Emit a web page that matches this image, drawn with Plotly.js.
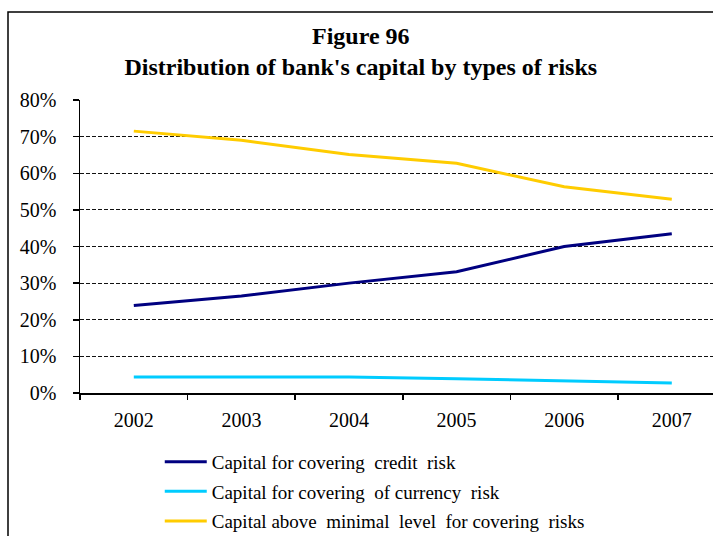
<!DOCTYPE html>
<html>
<head>
<meta charset="utf-8">
<script src="https://cdn.plot.ly/plotly-3.0.1.min.js"></script>
<style>html,body{margin:0;padding:0;background:#fff;}#chart{width:713px;height:536px;}</style>
</head>
<body>
<div id="chart"></div>
<script>
const years = ['2002', '2003', '2004', '2005', '2006', '2007'];
const creditRisk = [0.239, 0.265, 0.300, 0.331, 0.400, 0.435];
const currencyRisk = [0.044, 0.044, 0.044, 0.039, 0.032, 0.027];
const aboveMinimal = [0.715, 0.690, 0.651, 0.627, 0.563, 0.529];
const seriesNames = [
  'Capital for covering  credit  risk',
  'Capital for covering  of currency  risk',
  'Capital above  minimal  level  for covering  risks'
];
const colors = ['#000080', '#00CCFF', '#FFCC00'];
const serif = 'Liberation Serif, Times New Roman, serif';

const values = [creditRisk, currencyRisk, aboveMinimal];
const traces = values.map((v, i) => ({
  type: 'scatter', mode: 'lines', x: years, y: v, name: seriesNames[i],
  legendgroup: 'g' + i,
  line: {color: colors[i], width: 3}, hoverinfo: 'skip'
}));

const layout = {
  width: 713, height: 536,
  margin: {l: 80, r: 0, t: 100, b: 143, autoexpand: false},
  paper_bgcolor: '#ffffff', plot_bgcolor: '#ffffff',
  showlegend: true,
  title: {
    text: '<b>Figure 96</b><br><b>Distribution of bank\'s capital by types of risks</b>',
    font: {family: serif, size: 24, color: '#000'},
    x: 0.506, xref: 'container', xanchor: 'center',
    y: 1 - 44 / 536, yref: 'container', yanchor: 'top'
  },
  xaxis: {
    type: 'category', range: [-0.5, 5.383], tickson: 'boundaries',
    showgrid: false, showline: true, linecolor: '#000', linewidth: 1.5,
    ticks: 'outside', ticklen: 5, tickwidth: 1.5, tickcolor: '#000',
    ticklabelstandoff: 8,
    tickfont: {family: serif, size: 20, color: '#000'}, zeroline: false, fixedrange: true
  },
  yaxis: {
    range: [0, 0.8], dtick: 0.1, tick0: 0, tickformat: '.0%',
    showgrid: true, gridcolor: '#111', gridwidth: 1.2, griddash: '4px,2px',
    showline: true, linecolor: '#000', linewidth: 1.5,
    ticks: 'outside', ticklen: 6, tickwidth: 1.5, tickcolor: '#000',
    ticklabelstandoff: 12,
    tickfont: {family: serif, size: 20, color: '#000'}, zeroline: false, fixedrange: true
  },
  legend: {
    x: 0.126, xanchor: 'left', y: -0.17, yanchor: 'top',
    orientation: 'v', font: {family: serif, size: 19, color: '#000'},
    bgcolor: 'rgba(0,0,0,0)', itemwidth: 42, tracegroupgap: 2,
    itemclick: false, itemdoubleclick: false
  },
  shapes: [{
    type: 'rect', xref: 'paper', yref: 'paper',
    x0: (8 - 80) / 633, x1: 1.2, y0: (393 - 12) / 293, y1: -1,
    line: {color: '#000', width: 1.5}, fillcolor: 'rgba(0,0,0,0)', layer: 'below'
  }]
};

Plotly.newPlot('chart', traces, layout, {staticPlot: true, displayModeBar: false});
</script>
</body>
</html>
